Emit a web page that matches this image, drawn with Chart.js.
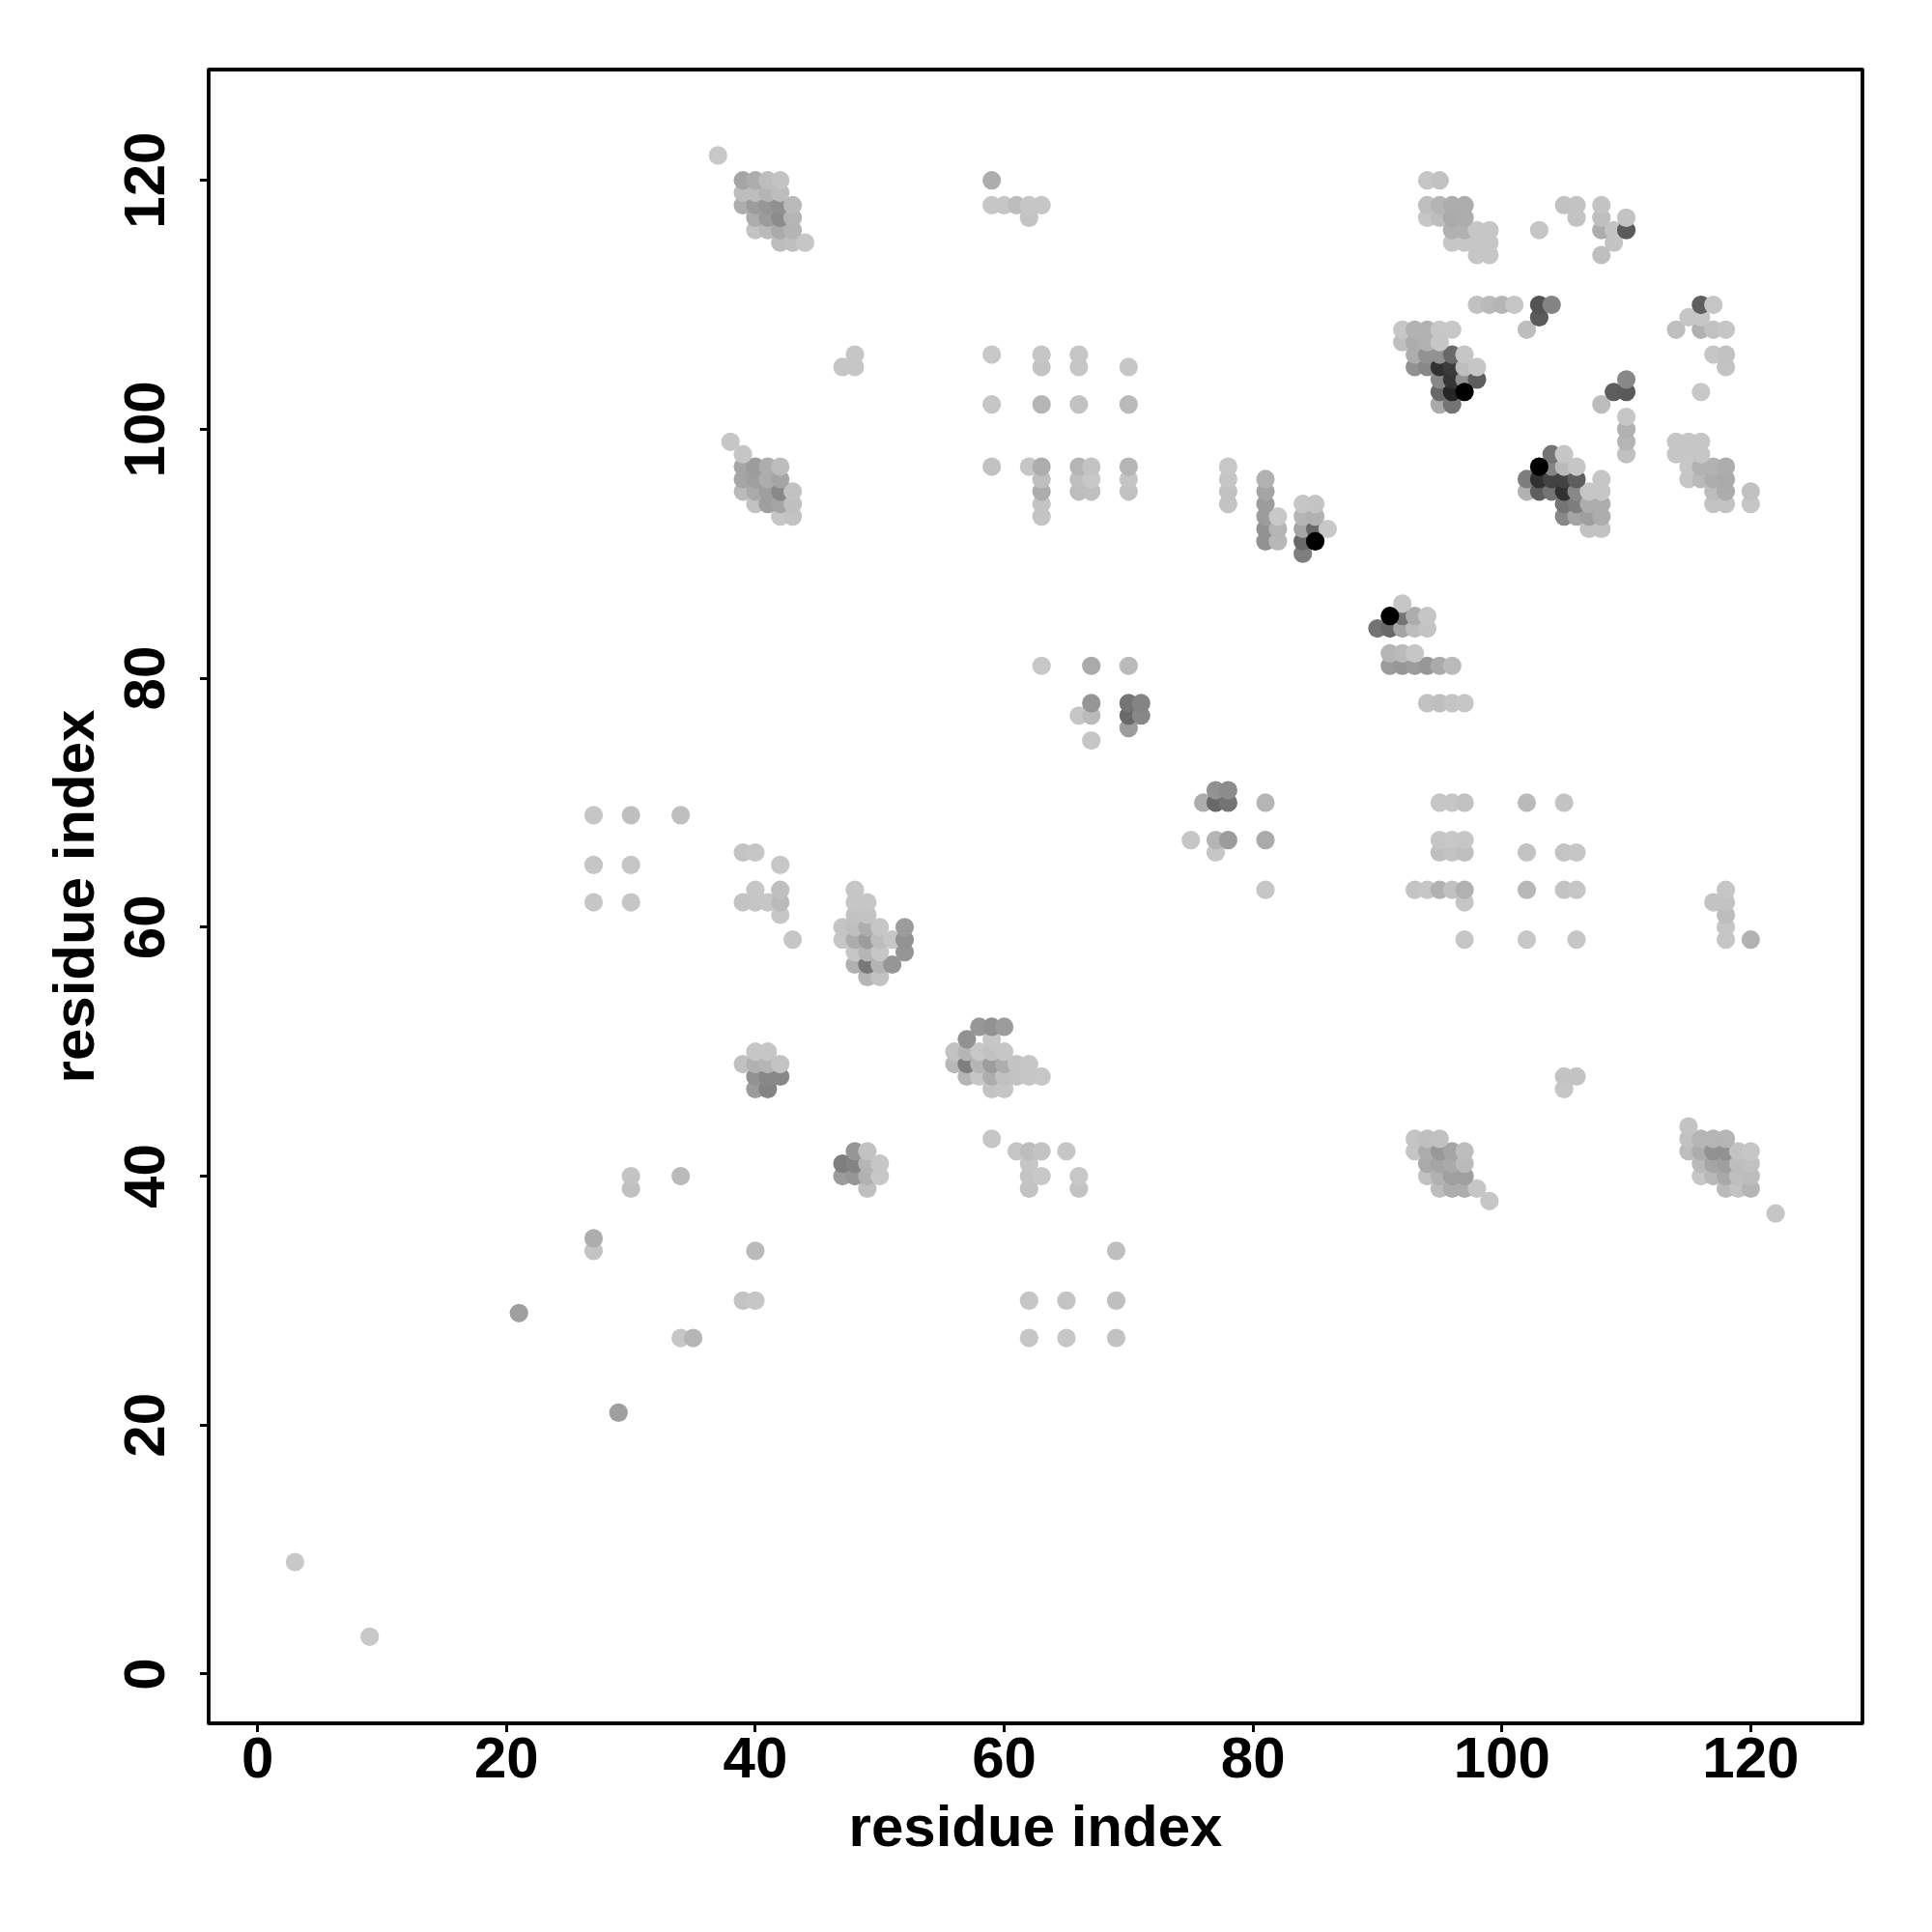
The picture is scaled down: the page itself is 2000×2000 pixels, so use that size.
<!DOCTYPE html>
<html>
<head>
<meta charset="utf-8">
<style>
  html, body { margin: 0; padding: 0; background: #fff; }
  #contactChart { display: block; }
</style>
<script src="https://cdn.jsdelivr.net/npm/chart.js@4"></script>
</head>
<body>
<canvas id="contactChart" width="2000" height="2000"></canvas>
<script>
const axisTitle = 'residue index';
const tickValues = [0, 20, 40, 60, 80, 100, 120];

// one entry per row of contacts: residue on y, residues on x, score (0 = weakest, 1 = strongest)
const rowY = [3, 9, 21, 27, 29, 30, 34, 35, 37, 38, 39, 40, 41, 42, 43, 44, 47, 48, 49, 50, 51, 52,
  56, 57, 58, 59, 60, 61, 62, 63, 65, 66, 67, 69, 70, 71, 75, 76, 77, 78, 81, 82, 84, 85, 86,
  90, 91, 92, 93, 94, 95, 96, 97, 98, 99, 100, 101, 102, 103, 104, 105, 106, 107, 108, 109, 110,
  114, 115, 116, 117, 118, 119, 120, 122,
  103, 97, 91, 85];

const rowX = [
  [9],
  [3],
  [29],
  [34, 35, 62, 65, 69],
  [21],
  [39, 40, 62, 65, 69],
  [27, 40, 69],
  [27],
  [122],
  [99],
  [30, 49, 62, 66, 95, 96, 97, 98, 118, 119, 120],
  [30, 34, 47, 48, 49, 50, 62, 63, 66, 94, 95, 96, 97, 116, 117, 118, 119, 120],
  [47, 48, 49, 50, 62, 94, 95, 96, 97, 116, 117, 118, 119, 120],
  [48, 49, 61, 62, 63, 65, 93, 94, 95, 96, 97, 115, 116, 117, 118, 119, 120],
  [59, 93, 94, 95, 115, 116, 117, 118],
  [115],
  [40, 41, 59, 60, 105],
  [40, 41, 42, 57, 58, 59, 60, 61, 62, 63, 105, 106],
  [39, 40, 41, 42, 56, 57, 58, 59, 60, 61, 62],
  [40, 41, 56, 57, 58, 59, 60],
  [57, 59],
  [58, 59, 60],
  [49, 50],
  [48, 49, 50, 51],
  [48, 49, 50, 52],
  [43, 47, 48, 49, 50, 51, 52, 97, 102, 106, 118, 120],
  [47, 48, 49, 50, 52, 118],
  [42, 48, 49, 118],
  [27, 30, 39, 40, 41, 42, 48, 49, 97, 117, 118],
  [40, 42, 48, 81, 93, 94, 95, 96, 97, 102, 105, 106, 118],
  [27, 30, 42],
  [39, 40, 77, 95, 96, 97, 102, 105, 106],
  [75, 77, 78, 81, 95, 96, 97],
  [27, 30, 34],
  [76, 77, 78, 81, 95, 96, 97, 102, 105],
  [77, 78],
  [67],
  [70],
  [66, 67, 70, 71],
  [67, 70, 71, 94, 95, 96, 97],
  [63, 67, 70, 91, 92, 93, 94, 95, 96],
  [91, 92, 93],
  [90, 91, 92, 93, 94],
  [92, 93, 94],
  [92],
  [84],
  [81, 82, 84],
  [81, 82, 84, 85, 86, 107, 108],
  [42, 43, 63, 81, 82, 84, 85, 105, 106, 107, 108],
  [40, 41, 42, 43, 63, 78, 81, 84, 85, 105, 106, 107, 108, 117, 118, 120],
  [39, 40, 41, 42, 43, 63, 66, 67, 70, 78, 81, 102, 103, 104, 105, 106, 107, 108, 117, 118, 120],
  [39, 40, 41, 42, 63, 66, 67, 70, 78, 81, 102, 103, 104, 105, 106, 108, 115, 116, 117, 118],
  [39, 40, 41, 42, 59, 62, 63, 66, 67, 70, 78, 104, 105, 106, 115, 116, 117, 118],
  [39, 104, 105, 110, 114, 115, 116],
  [38, 110, 114, 115, 116],
  [110],
  [110],
  [59, 63, 66, 70, 95, 96, 108],
  [95, 96, 109, 110, 116],
  [95, 96, 97, 98, 110],
  [47, 48, 63, 66, 70, 93, 94, 95, 96, 97, 98, 118],
  [48, 59, 63, 66, 93, 94, 95, 96, 97, 117, 118],
  [92, 93, 94, 95],
  [92, 93, 94, 95, 96, 102, 114, 116, 117, 118],
  [103, 115, 116],
  [98, 99, 100, 101, 103, 104, 116, 117],
  [98, 99, 108],
  [42, 43, 44, 96, 97, 98, 99, 109],
  [40, 41, 42, 43, 96, 97, 98, 99, 103, 108, 109, 110],
  [40, 41, 42, 43, 62, 94, 95, 96, 97, 106, 108, 110],
  [39, 40, 41, 42, 43, 59, 60, 61, 62, 63, 94, 95, 96, 97, 105, 106, 108],
  [39, 40, 41, 42],
  [39, 40, 41, 42, 59, 94, 95],
  [37],
  [97],
  [103],
  [85],
  [91]
];

const rowScore = [
  [0],
  [0],
  [.28],
  [.03, .15, .03, .03, .06],
  [.28],
  [.05, .03, .03, .04, .08],
  [.04, .12, .08],
  [.2],
  [.03],
  [.02],
  [.07, .08, .05, .05, .1, .2, .2, .03, .12, .05, .15],
  [.04, .12, .3, .33, .18, .01, .05, 0, .01, .06, .18, .28, .28, .03, .13, .23, .08, .1],
  [.45, .42, .15, .02, .03, .22, .25, .22, .12, .12, .25, .28, .1, .07],
  [.33, .06, .03, .1, .05, .03, .03, .2, .32, .25, .1, .1, .2, .35, .35, .05, .03],
  [.02, .04, .08, .07, .07, .15, .15, .15],
  [.04],
  [.3, .42, .05, .03, .02],
  [.35, .4, .4, .15, .03, .2, .07, .05, .02, .01, .04, .05],
  [.07, .18, .15, .05, .13, .45, .15, .3, .2, .04, .02],
  [.02, .02, .06, .15, .01, .06, .03],
  [.35, .02],
  [.32, .35, .3],
  [.15, .06],
  [.18, .48, .15, .33],
  [.03, .15, .02, .33],
  [.02, .03, .2, .3, .1, .01, .35, .03, .01, .02, .03, .17],
  [.04, .08, .2, .03, .3, .03],
  [.03, .06, .05, .1],
  [.03, .03, .05, .04, .03, .12, .02, .02, .03, .05, .05],
  [.02, .08, .03, .02, .04, .02, .17, .07, .18, .13, .05, .03, .02],
  [.02, .02, .01],
  [.05, .03, .02, .08, .05, .08, .05, .04, .02],
  [.03, .15, .3, .22, .03, .01, .03],
  [.02, .08, .08],
  [.2, .55, .5, .15, .03, .02, .06, .12, .04],
  [.35, .38],
  [.03],
  [.3],
  [.02, .12, .55, .4],
  [.33, .5, .42, .06, .08, .04, .02],
  [.01, .22, .12, .3, .33, .3, .32, .22, .12],
  [.15, .12, .02],
  [.5, .55, .25, .1, .04],
  [.5, .2, .03],
  [.02],
  [.45],
  [.35, .13, .55],
  [.35, .15, .25, .55, 0, .05, .05],
  [.03, .05, .04, .3, 0, .15, .18, .4, .25, .28, .2],
  [.06, .28, .25, .08, .04, .05, .3, .03, .04, .5, .45, .2, .2, .05, .05, .03],
  [.12, .22, .28, .4, .06, .2, .1, .08, .06, .06, .25, .17, .6, .5, .8, .4, .02, .02, .1, .2, .07],
  [.25, .28, .2, .25, .08, .08, 0, .04, .03, .18, .45, .8, .72, .72, .6, .03, .03, .12, .2, .22],
  [.25, .3, .2, .1, .06, .03, .2, .15, .05, .15, .01, .42, .12, .03, .01, .17, .17, .2],
  [.03, .5, .02, .07, .02, .01, .02],
  [.02, .15, .03, .02, .03],
  [.18],
  [.03],
  [.03, .15, .06, .12, .22, .5, .1],
  [.55, .85, .6, .62, 0],
  [.4, .78, .35, .6, .4],
  [.03, .03, .05, .03, .03, .35, .4, .8, .75, .1, .02, .05],
  [.03, 0, .03, .03, .2, .35, .35, .55, .02, .03, .06],
  [.08, .2, .17, .02],
  [.03, .17, .17, .01, .01, .1, .08, .18, .06, .03],
  [.62, .03, .03],
  [.06, .12, .15, .03, .65, .42, .6, .03],
  [.02, .02, .08],
  [.1, .08, .03, .03, .03, .02, .02, .04],
  [.05, .12, .22, .15, .18, .18, .03, .02, .02, .2, .04, .62],
  [.2, .3, .38, .15, .05, .03, .1, .22, .2, .05, .08, .05],
  [.2, .3, .33, .36, .12, .03, .03, .1, .03, .02, .08, .15, .2, .2, .06, .05, .04],
  [.1, .1, .15, .1],
  [.25, .2, .1, .05, .2, .03, .06],
  [0],
  [1],
  [1],
  [1],
  [1]
];

const contacts = [];
const contactColors = [];
rowY.forEach((y, r) => {
  rowX[r].forEach((x, c) => {
    const g = Math.round(200 * (1 - Math.pow(rowScore[r][c], 1.25)));
    contacts.push({ x: x, y: y });
    contactColors.push(`rgb(${g},${g},${g})`);
  });
});

const tickFont = { family: '"Liberation Sans"', size: 60, weight: 'bold' };
const titleFont = { family: '"Liberation Sans"', size: 60, weight: 'bold' };

const fixTicks = (scale) => {
  scale.ticks = tickValues.map(v => ({ value: v }));
};

// the plot box is closed on all four sides
const frame = {
  id: 'frame',
  afterDatasetsDraw(chart) {
    const { ctx, chartArea: a } = chart;
    ctx.save();
    ctx.strokeStyle = '#000';
    ctx.lineWidth = 3.8;
    ctx.lineJoin = 'round';
    ctx.strokeRect(a.left, a.top, a.right - a.left, a.bottom - a.top);
    ctx.restore();
  }
};

new Chart(document.getElementById('contactChart').getContext('2d'), {
  type: 'scatter',
  data: {
    datasets: [{
      label: axisTitle,
      data: contacts,
      pointRadius: 9.6,
      pointBorderWidth: 0,
      pointBackgroundColor: contactColors,
      clip: false
    }]
  },
  plugins: [frame],
  options: {
    responsive: false,
    animation: false,
    devicePixelRatio: 1,
    layout: { padding: { top: 72, right: 72, left: 0, bottom: 0 } },
    plugins: { legend: { display: false }, tooltip: { enabled: false } },
    scales: {
      x: {
        type: 'linear',
        min: -3.94,
        max: 128.98,
        afterBuildTicks: fixTicks,
        afterFit: (scale) => { scale.height = 216; },
        grid: { drawOnChartArea: false, tickLength: 9, tickWidth: 3, tickColor: '#000' },
        border: { display: false },
        ticks: { color: '#000', font: tickFont, padding: -6, maxRotation: 0, minRotation: 0, autoSkip: false },
        title: { display: true, text: axisTitle, color: '#000', font: titleFont, padding: { top: 0, bottom: 70 } }
      },
      y: {
        type: 'linear',
        min: -3.96,
        max: 128.9,
        afterBuildTicks: fixTicks,
        afterFit: (scale) => { scale.width = 216; },
        grid: { drawOnChartArea: false, tickLength: 9, tickWidth: 3, tickColor: '#000' },
        border: { display: false },
        ticks: { color: '#000', font: tickFont, padding: 3, minRotation: 90, maxRotation: 90, crossAlign: 'center', autoSkip: false },
        title: { display: true, text: axisTitle, color: '#000', font: titleFont, padding: { top: 44, bottom: 0 } }
      }
    }
  }
});
</script>
</body>
</html>
